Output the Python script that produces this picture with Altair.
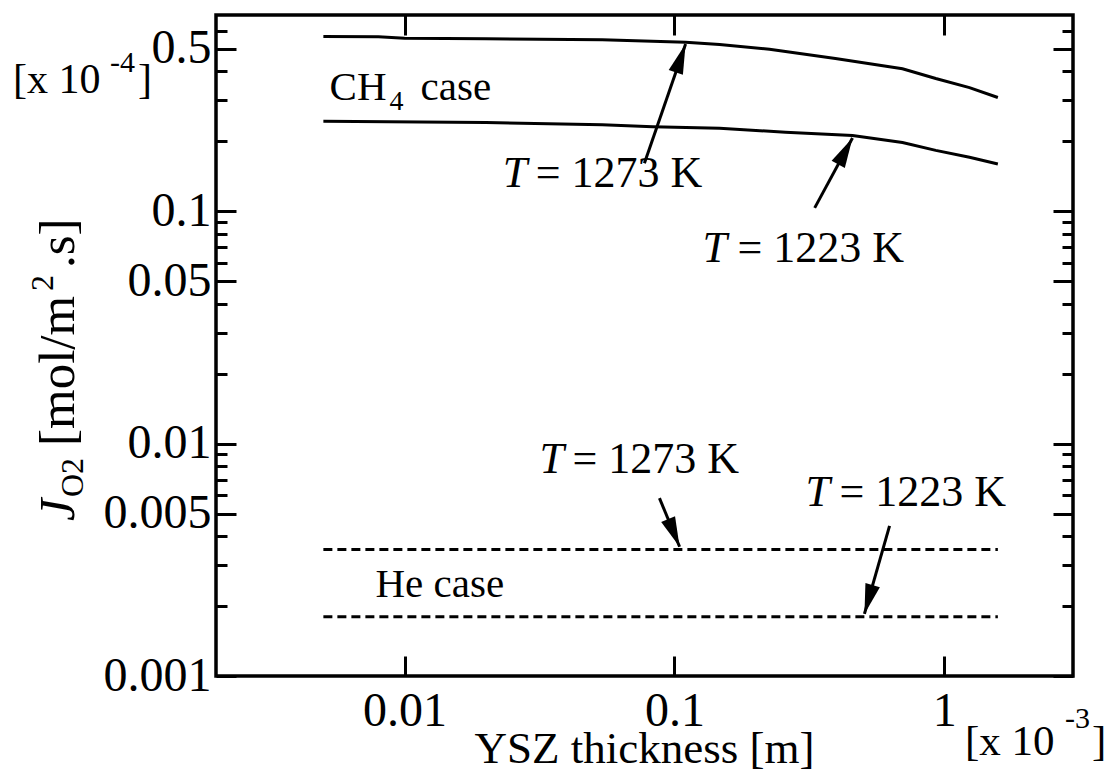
import math
import altair as alt
import pandas as pd

# YSZ thickness in units of 1e-3 m, O2 flux in units of 1e-4 mol/m2.s
ch4_1273_thickness = [0.005, 0.008, 0.01, 0.02, 0.054, 0.11, 0.147, 0.225, 0.395, 0.70, 0.93, 1.24, 1.58]
ch4_1273_flux = [0.566, 0.564, 0.556, 0.553, 0.548, 0.534, 0.523, 0.498, 0.455, 0.411, 0.373, 0.341, 0.309]
ch4_1223_thickness = [0.005, 0.02, 0.054, 0.083, 0.147, 0.258, 0.457, 0.70, 0.93, 1.24, 1.58]
ch4_1223_flux = [0.244, 0.241, 0.236, 0.2315, 0.228, 0.219, 0.212, 0.198, 0.183, 0.171, 0.160]
he_thickness = [0.005, 1.58]
he_1273_flux = [0.0035, 0.0035]
he_1223_flux = [0.0018, 0.0018]

x_ticks = [0.01, 0.1, 1]
y_major = [0.001, 0.005, 0.01, 0.05, 0.1, 0.5]
y_minor = [0.002, 0.003, 0.004, 0.006, 0.007, 0.008, 0.009,
           0.02, 0.03, 0.04, 0.06, 0.07, 0.08, 0.09,
           0.2, 0.3, 0.4, 0.6]
x_domain = [0.002, 3]
y_domain = [0.001, 0.7]

# annotation arrows: tail -> tip, in data units
arrow_tail_t = [0.0774, 0.331, 0.088, 0.627]
arrow_tail_j = [0.161, 0.1035, 0.00583, 0.00443]
arrow_tip_t = [0.110, 0.457, 0.1045, 0.506]
arrow_tip_j = [0.525, 0.207, 0.0036, 0.00185]

W, H = 857, 661
FONT = "Times New Roman, Liberation Serif, Nimbus Roman, DejaVu Serif, serif"
MAJOR, MINOR = 20, 11

xs = alt.Scale(type="log", domain=x_domain, nice=False)
ys = alt.Scale(type="log", domain=y_domain, nice=False)

# Axes are pulled inside the frame by their tick length (negative offset),
# so their outward ticks read as inward ticks and the labels stay outside.
tick_look = dict(ticks=True, tickColor="black", tickWidth=3, domain=False, grid=False, title=None)
x_axis = alt.Axis(values=x_ticks, format="~g", labelFont=FONT, labelFontSize=48,
                  labelColor="black", labelPadding=11, labelFlush=False,
                  tickSize=MAJOR, offset=-MAJOR, **tick_look)
y_axis = alt.Axis(values=y_major, format="~g", labelFont=FONT, labelFontSize=48,
                  labelColor="black", labelPadding=5, labelFlush=False,
                  tickSize=MAJOR, offset=-MAJOR, **tick_look)


def X(field="t"):
    return alt.X(f"{field}:Q", scale=xs, axis=x_axis)


def Y(field="j"):
    return alt.Y(f"{field}:Q", scale=ys, axis=y_axis)


def series(t, j):
    return pd.DataFrame({"t": t, "j": j})


solid = dict(color="black", strokeWidth=3)
dashed = dict(color="black", strokeWidth=3, strokeDash=[9, 5])

lines = [
    alt.Chart(series(ch4_1273_thickness, ch4_1273_flux)).mark_line(**solid).encode(x=X(), y=Y()),
    alt.Chart(series(ch4_1223_thickness, ch4_1223_flux)).mark_line(**solid).encode(x=X(), y=Y()),
    alt.Chart(series(he_thickness, he_1273_flux)).mark_line(**dashed).encode(x=X(), y=Y()),
    alt.Chart(series(he_thickness, he_1223_flux)).mark_line(**dashed).encode(x=X(), y=Y()),
]


# arrows
def px(t):
    return W * (math.log10(t) - math.log10(x_domain[0])) / (math.log10(x_domain[1]) - math.log10(x_domain[0]))


def py(j):
    return H * (1 - (math.log10(j) - math.log10(y_domain[0])) / (math.log10(y_domain[1]) - math.log10(y_domain[0])))


arrows = pd.DataFrame({
    "t": arrow_tail_t, "j": arrow_tail_j,
    "t2": arrow_tip_t, "j2": arrow_tip_j,
})
arrows["ang"] = [
    math.degrees(math.atan2(px(t2) - px(t1), -(py(j2) - py(j1)))) % 360
    for t1, j1, t2, j2 in zip(arrow_tail_t, arrow_tail_j, arrow_tip_t, arrow_tip_j)
]

shafts = alt.Chart(arrows).mark_rule(color="black", strokeWidth=3).encode(
    x=X(), y=Y(), x2="t2:Q", y2="j2:Q")
heads = alt.Chart(arrows).mark_point(
    shape="M0,0 L-0.75,3 L0.75,3 Z", filled=True, color="black", opacity=1, size=400, strokeWidth=0
).encode(x=X("t2"), y=Y("j2"), angle=alt.Angle("ang:Q", scale=None))


def note(text, t, j, size=42, italic=False, dx=0, dy=0):
    df = pd.DataFrame({"t": [t], "j": [j], "s": [text]})
    return alt.Chart(df).mark_text(
        font=FONT, fontSize=size, fontStyle="italic" if italic else "normal",
        align="left", baseline="alphabetic", color="black", dx=dx, dy=dy
    ).encode(x=X(), y=Y(), text="s:N")


def label(text, x, y, size=44, italic=False, angle=0, align="left"):
    df = pd.DataFrame({"s": [text]})
    return alt.Chart(df).mark_text(
        font=FONT, fontSize=size, fontStyle="italic" if italic else "normal",
        align=align, baseline="alphabetic", color="black", angle=angle
    ).encode(x=alt.value(x), y=alt.value(y), text="s:N")


notes = [
    note("CH", 0.00527, 0.302, size=41),
    note("4", 0.00527, 0.302, size=28, dx=60, dy=10),
    note("case", 0.00527, 0.302, size=41, dx=91),
    note("T", 0.0231, 0.127, italic=True, size=44),
    note("= 1273 K", 0.0231, 0.127, size=44, dx=33),
    note("T", 0.127, 0.0605, italic=True, size=44),
    note("= 1223 K", 0.127, 0.0605, size=44, dx=35),
    note("T", 0.0316, 0.00749, italic=True, size=44),
    note("= 1273 K", 0.0316, 0.00749, size=44, dx=33),
    note("T", 0.306, 0.0054, italic=True, size=44),
    note("= 1223 K", 0.306, 0.0054, size=44, dx=34),
    note("He case", 0.0078, 0.00219, size=41),
]

titles = [
    # x title and multiplier
    label("YSZ thickness [m]", W / 2, 748, size=45, align="center"),
    label("[x 10", 749, 740, size=43),
    label("-3", 849, 713, size=30),
    label("]", 876, 740, size=43),
    # y multiplier
    label("[x 10", -203, 78, size=42),
    label("-4", -106, 57, size=30),
    label("]", -78, 78, size=42),
    # y title, rotated to read upwards
    label("J", -142, 506, size=50, italic=True, angle=270),
    label("O2", -133, 482, size=32, angle=270),
    label("[mol/m", -142, 431, size=51, angle=270),
    label("2", -163, 276, size=32, angle=270),
    label(".s]", -142, 253, size=51, angle=270),
]

main = alt.layer(*lines, shafts, heads, *notes, *titles)


# extra unlabeled axes for the minor ticks and the mirrored right/top ticks
def y_tick_axis(values, orient, length):
    ax = alt.Axis(orient=orient, values=values, labels=False, tickSize=length, offset=-length, **tick_look)
    return alt.Chart(pd.DataFrame({"j": values})).mark_point(opacity=0).encode(
        y=alt.Y("j:Q", scale=ys, axis=ax))


def x_tick_axis(values, orient, length):
    ax = alt.Axis(orient=orient, values=values, labels=False, tickSize=length, offset=-length, **tick_look)
    return alt.Chart(pd.DataFrame({"t": values})).mark_point(opacity=0).encode(
        x=alt.X("t:Q", scale=xs, axis=ax))


chart = alt.layer(
    main,
    y_tick_axis(y_minor, "left", MINOR),
    y_tick_axis(y_major, "right", MAJOR),
    y_tick_axis(y_minor, "right", MINOR),
    x_tick_axis(x_ticks, "top", MAJOR),
).resolve_axis(x="independent", y="independent").properties(
    width=W, height=H,
    autosize=alt.AutoSizeParams(type="none"),
    padding={"left": 216, "top": 15, "right": 33, "bottom": 104},
    background="white",
).configure_view(stroke="black", strokeWidth=3.5)

chart.save("out.html", embed_options={"renderer": "svg", "actions": False})
